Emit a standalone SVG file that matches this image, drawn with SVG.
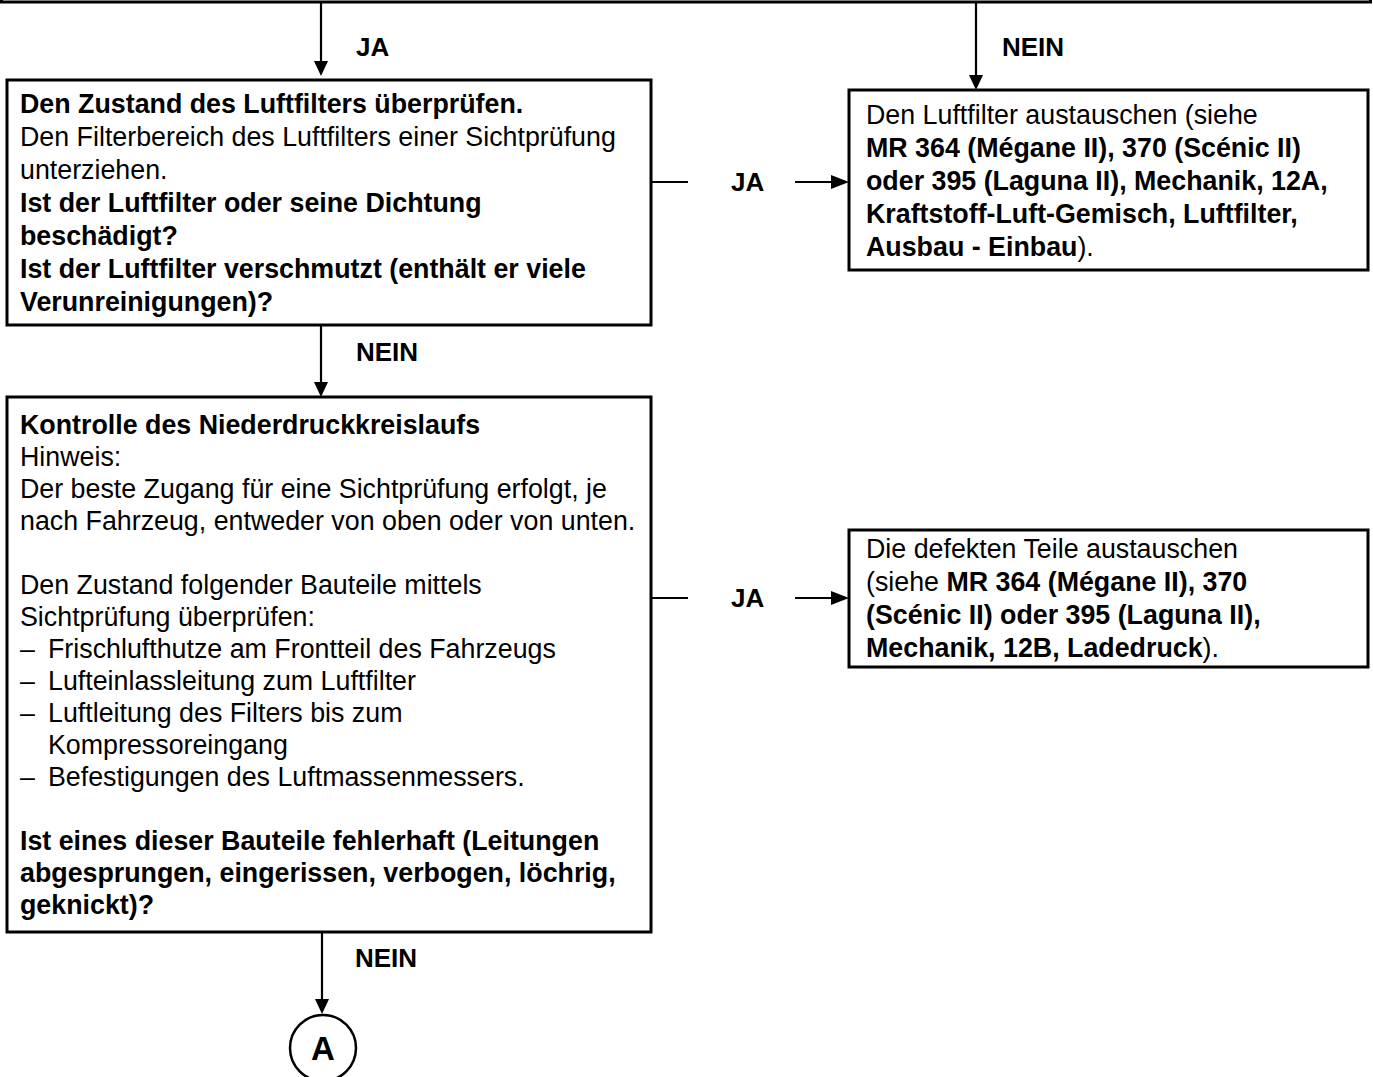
<svg xmlns="http://www.w3.org/2000/svg" width="1373" height="1077" viewBox="0 0 1373 1077">
<defs>
<style>
.box{fill:#fff;stroke:#000;stroke-width:3}
.ln{stroke:#000;stroke-width:2.2;fill:none}
.ah{fill:#000}
text{font-family:"Liberation Sans",Arial,sans-serif;font-size:26.8px;fill:#000}
.b{font-weight:bold}
.lbl{font-weight:bold;font-size:26px}
.circ{font-weight:bold;font-size:33px}
</style>
</defs>
<rect width="1373" height="1077" fill="#fff"/>
<g id="top">
<rect class="box" x="1.5" y="-20" width="1369" height="22"/>
</g>
<g id="connectors">
<line class="ln" x1="321" y1="3" x2="321" y2="62"/>
<polygon class="ah" points="314,61 328,61 321,76"/>
<text class="lbl" x="356" y="56">JA</text>
<line class="ln" x1="976" y1="3" x2="976" y2="76"/>
<polygon class="ah" points="969,75 983,75 976,90"/>
<text class="lbl" x="1002" y="56">NEIN</text>
<line class="ln" x1="651" y1="182" x2="688" y2="182"/>
<text class="lbl" x="731" y="191">JA</text>
<line class="ln" x1="795" y1="182" x2="832" y2="182"/>
<polygon class="ah" points="831,175 831,189 849,182"/>
<line class="ln" x1="321" y1="325" x2="321" y2="383"/>
<polygon class="ah" points="314,382 328,382 321,397"/>
<text class="lbl" x="356" y="361">NEIN</text>
<line class="ln" x1="651" y1="598" x2="688" y2="598"/>
<text class="lbl" x="731" y="607">JA</text>
<line class="ln" x1="795" y1="598" x2="832" y2="598"/>
<polygon class="ah" points="831,591 831,605 849,598"/>
<line class="ln" x1="322" y1="933" x2="322" y2="1000"/>
<polygon class="ah" points="315,999 329,999 322,1014"/>
<text class="lbl" x="355" y="967">NEIN</text>
</g>
<g id="n1">
<rect class="box" x="7" y="80" width="644" height="245"/>
<text x="20" y="113" class="b">Den Zustand des Luftfilters überprüfen.</text>
<text x="20" y="146">Den Filterbereich des Luftfilters einer Sichtprüfung</text>
<text x="20" y="179">unterziehen.</text>
<text x="20" y="212" class="b">Ist der Luftfilter oder seine Dichtung</text>
<text x="20" y="245" class="b">beschädigt?</text>
<text x="20" y="278" class="b">Ist der Luftfilter verschmutzt (enthält er viele</text>
<text x="20" y="311" class="b">Verunreinigungen)?</text>
</g>
<g id="n2">
<rect class="box" x="849" y="90" width="519" height="180"/>
<text x="866" y="124">Den Luftfilter austauschen (siehe</text>
<text x="866" y="157" class="b">MR 364 (Mégane II), 370 (Scénic II)</text>
<text x="866" y="190" class="b">oder 395 (Laguna II), Mechanik, 12A,</text>
<text x="866" y="223" class="b">Kraftstoff-Luft-Gemisch, Luftfilter,</text>
<text x="866" y="256"><tspan class="b">Ausbau - Einbau</tspan>).</text>
</g>
<g id="n3">
<rect class="box" x="7" y="397" width="644" height="535"/>
<text x="20" y="434" class="b">Kontrolle des Niederdruckkreislaufs</text>
<text x="20" y="466">Hinweis:</text>
<text x="20" y="498">Der beste Zugang für eine Sichtprüfung erfolgt, je</text>
<text x="20" y="530">nach Fahrzeug, entweder von oben oder von unten.</text>
<text x="20" y="594">Den Zustand folgender Bauteile mittels</text>
<text x="20" y="626">Sichtprüfung überprüfen:</text>
<text x="20" y="658">–</text><text x="48" y="658">Frischlufthutze am Frontteil des Fahrzeugs</text>
<text x="20" y="690">–</text><text x="48" y="690">Lufteinlassleitung zum Luftfilter</text>
<text x="20" y="722">–</text><text x="48" y="722">Luftleitung des Filters bis zum</text>
<text x="48" y="754">Kompressoreingang</text>
<text x="20" y="786">–</text><text x="48" y="786">Befestigungen des Luftmassenmessers.</text>
<text x="20" y="850" class="b">Ist eines dieser Bauteile fehlerhaft (Leitungen</text>
<text x="20" y="882" class="b">abgesprungen, eingerissen, verbogen, löchrig,</text>
<text x="20" y="914" class="b">geknickt)?</text>
</g>
<g id="n4">
<rect class="box" x="849" y="530" width="519" height="137"/>
<text x="866" y="558">Die defekten Teile austauschen</text>
<text x="866" y="591">(siehe <tspan class="b">MR 364 (Mégane II), 370</tspan></text>
<text x="866" y="624" class="b">(Scénic II) oder 395 (Laguna II),</text>
<text x="866" y="657"><tspan class="b">Mechanik, 12B, Ladedruck</tspan>).</text>
</g>
<g id="nA">
<circle cx="323" cy="1048" r="33" fill="#fff" stroke="#000" stroke-width="2.5"/>
<text x="323" y="1060" class="circ" text-anchor="middle">A</text>
</g>
</svg>
